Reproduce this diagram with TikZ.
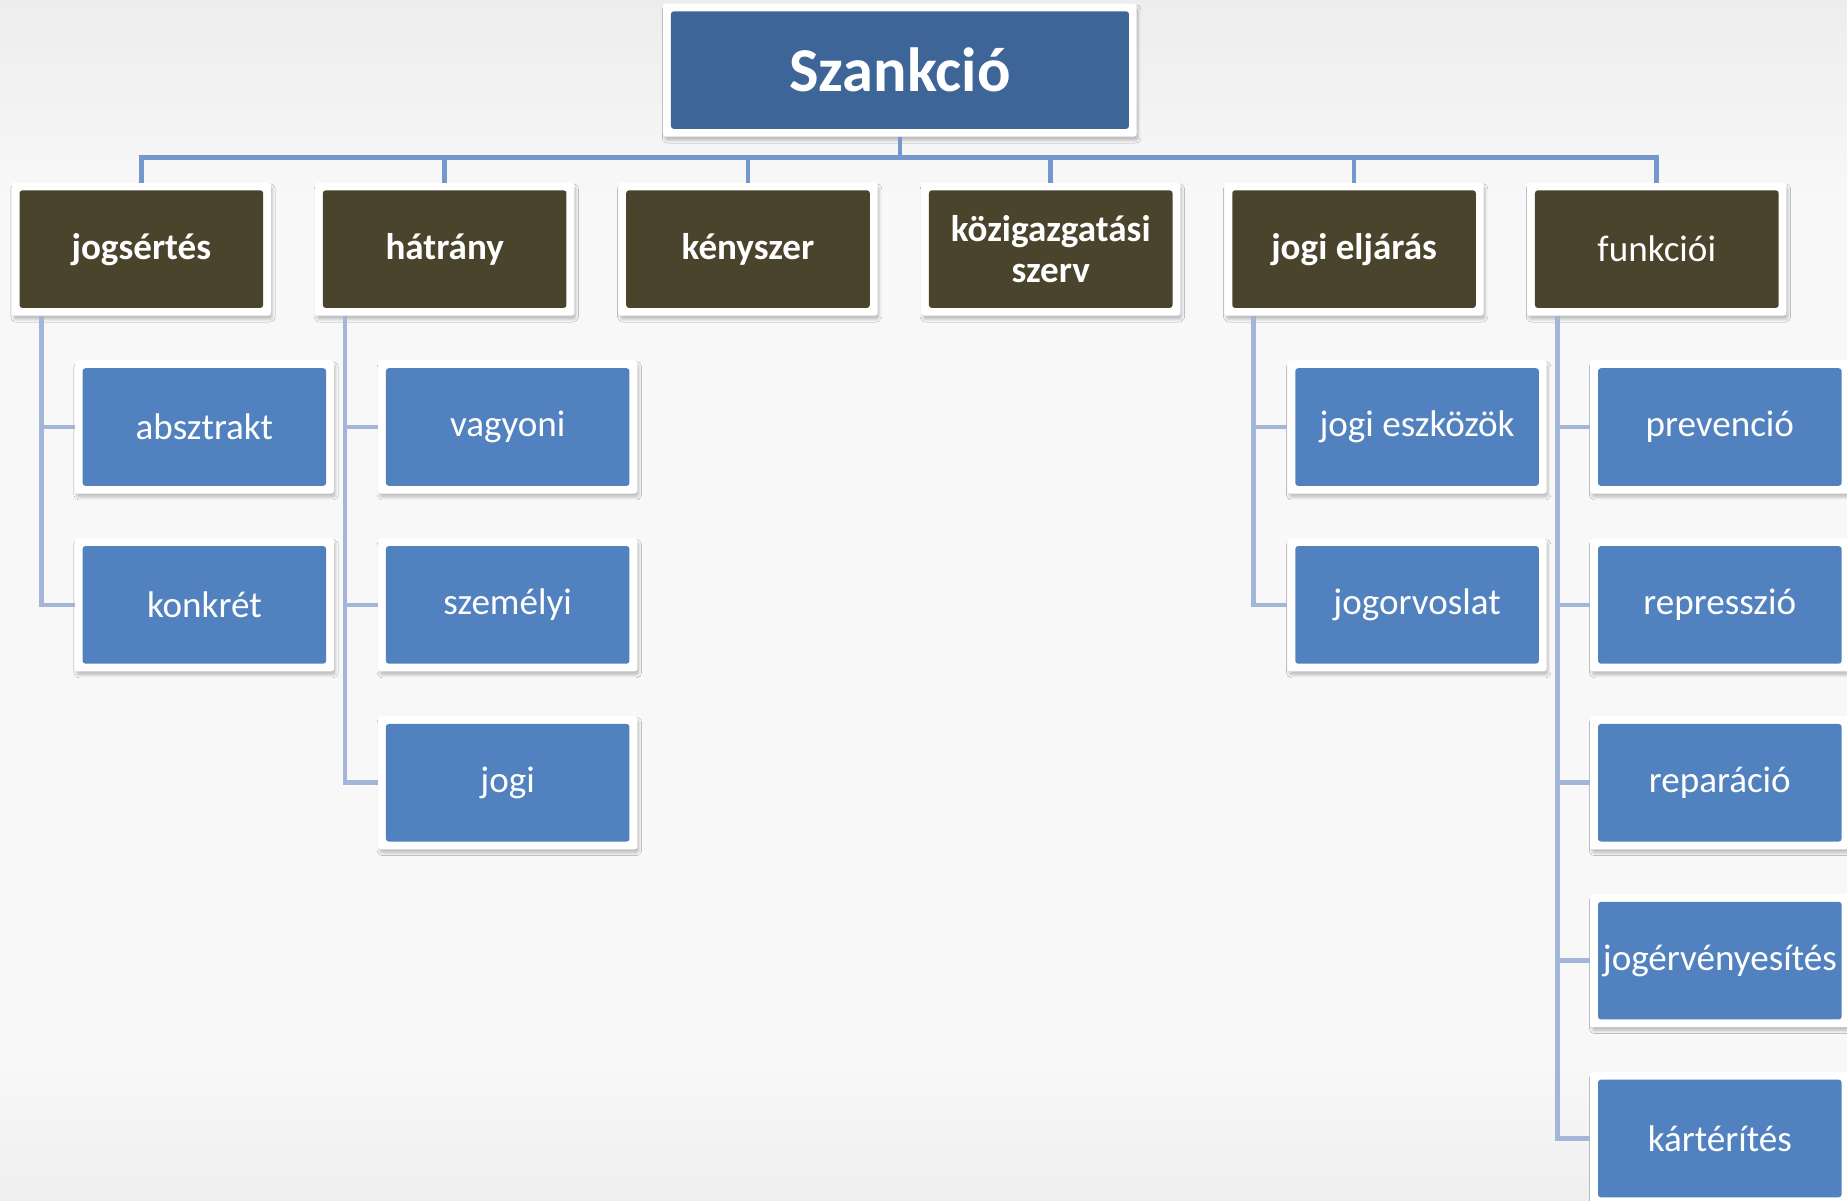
\documentclass[tikz,border=0pt]{standalone}
\usepackage{fontspec}
\setmainfont{Carlito}
\usetikzlibrary{shadows.blur}
\definecolor{rootblue}{HTML}{3E6598}
\definecolor{olive}{HTML}{4A442D}
\definecolor{leafblue}{HTML}{5182BF}
\definecolor{busline}{HTML}{7598CC}
\definecolor{subline}{HTML}{A3B6D8}
\definecolor{bgA}{HTML}{EDEDED}
\definecolor{bgB}{HTML}{F8F8F8}
\tikzset{
  box/.style={rectangle, fill=white, rounded corners=1.2pt, inner sep=0pt, outer sep=0pt,
    minimum width=110pt, minimum height=56.5pt, text=white, align=center,
    font=\fontsize{15.75}{17.3}\selectfont,
    blur shadow={shadow xshift=0.7pt, shadow yshift=-1.6pt, shadow blur radius=1.1pt, shadow opacity=22},
    path picture={\fill[#1] ([shift={(3.3pt,3.3pt)}]path picture bounding box.south west) rectangle ([shift={(-3.3pt,-3.3pt)}]path picture bounding box.north east);}},
  rootbox/.style={box=rootblue, minimum width=201pt, font=\fontsize{26.5}{30}\selectfont\bfseries},
  topbox/.style={box=olive, font=\fontsize{15.75}{17.3}\selectfont\bfseries},
  topboxr/.style={box=olive},
  leaf/.style={box=leafblue},
  conn/.style={draw=busline, line width=2pt},
  subconn/.style={draw=subline, line width=2pt},
}
\begin{document}
\begin{tikzpicture}[x=0.5pt,y=-0.5pt]
\useasboundingbox (0,0) rectangle (1568,1019);
\fill[bgB] (0,0) rectangle (1568,1019);
\shade[top color=bgA, bottom color=bgB] (0,0) rectangle (1568,170);
\shade[top color=bgB, bottom color=bgA!80!bgB] (0,900) rectangle (1568,1019);

\node[rootbox] (root) at (764,59.5) {Szankció};

\node[topbox]  (c1) at (120,211.5)    {jogsértés};
\node[topbox]  (c2) at (377.5,211.5)  {hátrány};
\node[topbox]  (c3) at (635,211.5)    {kényszer};
\node[topbox]  (c4) at (892,211.5)    {közigazgatási\\szerv};
\node[topbox]  (c5) at (1149.5,211.5) {jogi eljárás};
\node[topboxr] (c6) at (1406.5,211.5) {funkciói};

\node[leaf] (a1) at (173.5,362.5) {absztrakt};
\node[leaf] (a2) at (173.5,513.5) {konkrét};

\node[leaf] (b1) at (431,362.5) {vagyoni};
\node[leaf] (b2) at (431,513.5) {személyi};
\node[leaf] (b3) at (431,664.5) {jogi};

\node[leaf] (e1) at (1203,362.5) {jogi eszközök};
\node[leaf] (e2) at (1203,513.5) {jogorvoslat};

\node[leaf] (f1) at (1460,362.5) {prevenció};
\node[leaf] (f2) at (1460,513.5) {represszió};
\node[leaf] (f3) at (1460,664.5) {reparáció};
\node[leaf] (f4) at (1460,815.5) {jogérvényesítés};
\node[leaf] (f5) at (1460,966.5) {kártérítés};

\foreach \c in {c1,c2,c3,c4,c5,c6}
  \draw[conn] (root.south) -- ++(0,18) -| (\c.north);

\draw[subconn] ([xshift=12.75pt]c1.south west) |- (a1.west);
\draw[subconn] ([xshift=12.75pt]c1.south west) |- (a2.west);
\draw[subconn] ([xshift=12.75pt]c2.south west) |- (b1.west);
\draw[subconn] ([xshift=12.75pt]c2.south west) |- (b2.west);
\draw[subconn] ([xshift=12.75pt]c2.south west) |- (b3.west);
\draw[subconn] ([xshift=12.25pt]c5.south west) |- (e1.west);
\draw[subconn] ([xshift=12.25pt]c5.south west) |- (e2.west);
\foreach \f in {f1,f2,f3,f4,f5}
  \draw[subconn] ([xshift=12.75pt]c6.south west) |- (\f.west);
\end{tikzpicture}
\end{document}
